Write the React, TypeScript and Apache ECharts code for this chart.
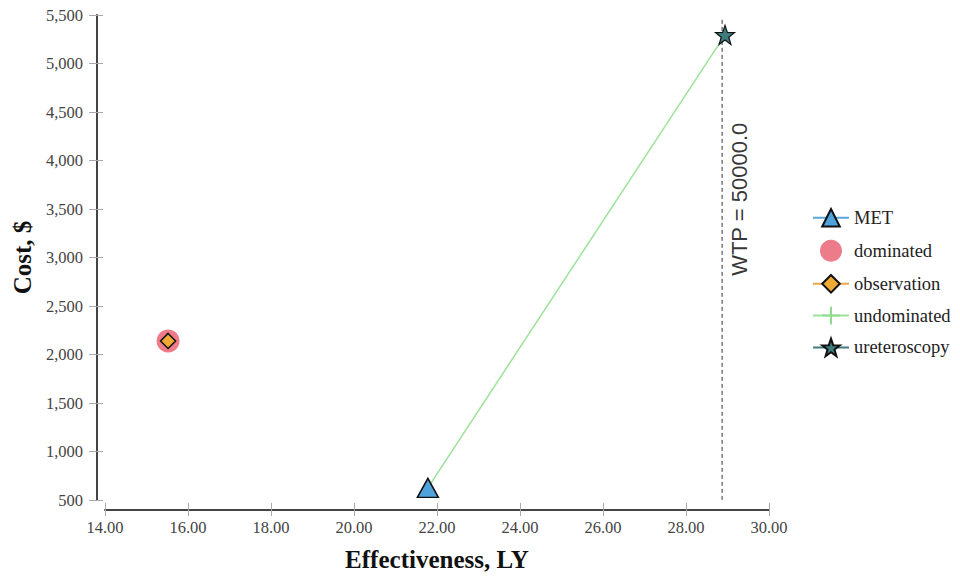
import React, { useEffect, useRef } from "react";
import * as echarts from "echarts";

const xTicks = [14, 16, 18, 20, 22, 24, 26, 28, 30];
const yTicks = [500, 1000, 1500, 2000, 2500, 3000, 3500, 4000, 4500, 5000, 5500];
const metPoint = [21.78, 625];
const dominatedPoint = [15.52, 2140];
const observationPoint = [15.52, 2140];
const ureteroscopyPoint = [28.94, 5295];
const undominatedLine = [metPoint, ureteroscopyPoint];
const wtpLine = [[28.87, 5450], [28.87, 480]];
const wtpLabelAnchor = [29.3, 3600];
const wtpText = "WTP = 50000.0";

const STAR =
  "path://M0,-10L2.35,-3.24L9.51,-3.09L3.8,1.24L5.88,8.09L0,4L-5.88,8.09L-3.8,1.24L-9.51,-3.09L-2.35,-3.24Z";
const PLUS = "path://M0,5L10,5M5,0L5,10";

export default function App() {
  const ref = useRef<HTMLDivElement>(null);
  useEffect(() => {
    const chart = echarts.init(ref.current!, null, { renderer: "svg" });
    const serif = "'Liberation Serif', 'Times New Roman', serif";
    const tickLabel = { fontFamily: serif, fontSize: 16.5, color: "#444" };
    const baseX = {
      type: "value",
      min: xTicks[0],
      max: xTicks[xTicks.length - 1],
      interval: 2,
      position: "bottom",
      offset: 10,
      splitLine: { show: false },
    };
    const baseY = {
      type: "value",
      min: yTicks[0],
      max: yTicks[yTicks.length - 1],
      interval: 500,
      position: "left",
      offset: 8,
      splitLine: { show: false },
    };
    chart.setOption({
      animation: false,
      textStyle: { fontFamily: serif },
      grid: { left: 105, right: 191, top: 15, bottom: 80 },
      xAxis: [
        {
          ...baseX,
          name: "Effectiveness, LY",
          nameLocation: "middle",
          nameGap: 37,
          nameTextStyle: { fontFamily: serif, fontSize: 25, fontWeight: "bold", color: "#111" },
          axisLine: { show: true, lineStyle: { color: "#444", width: 2 } },
          axisTick: { show: true, inside: false, length: 6, lineStyle: { color: "#aaa" } },
          axisLabel: { ...tickLabel, margin: 9, formatter: (v: number) => v.toFixed(2) },
        },
        {
          ...baseX,
          axisLine: { show: false },
          axisTick: { show: true, inside: true, length: 7, lineStyle: { color: "#aaa" } },
          axisLabel: { show: false },
        },
      ],
      yAxis: [
        {
          ...baseY,
          name: "Cost, $",
          nameLocation: "middle",
          nameGap: 55,
          nameTextStyle: { fontFamily: serif, fontSize: 25, fontWeight: "bold", color: "#111" },
          axisLine: { show: true, lineStyle: { color: "#444", width: 2 } },
          axisTick: { show: true, inside: false, length: 8, lineStyle: { color: "#aaa" } },
          axisLabel: {
            ...tickLabel,
            margin: 14,
            formatter: (v: number) => v.toLocaleString("en-US"),
          },
        },
        {
          ...baseY,
          axisLine: { show: false },
          axisTick: { show: true, inside: true, length: 6, lineStyle: { color: "#aaa" } },
          axisLabel: { show: false },
        },
      ],
      legend: {
        orient: "vertical",
        left: 807,
        top: 203,
        itemWidth: 36,
        itemHeight: 22,
        itemGap: 12.2,
        textStyle: { fontFamily: serif, fontSize: 18.5, color: "#222" },
        data: ["MET", "dominated", "observation", "undominated", "ureteroscopy"],
      },
      series: [
        {
          name: "undominated",
          type: "line",
          data: undominatedLine,
          showSymbol: false,
          symbol: PLUS,
          symbolSize: 14,
          itemStyle: { color: "#8fdc8f", borderColor: "#8fdc8f", borderWidth: 1.5 },
          lineStyle: { color: "#9be29b", width: 1.5 },
          z: 2,
        },
        {
          name: "WTP",
          type: "line",
          data: wtpLine,
          symbol: "none",
          clip: false,
          lineStyle: { color: "#333", width: 1, type: [4, 3] },
          z: 1,
        },
        {
          name: "WTP label",
          type: "scatter",
          data: [wtpLabelAnchor],
          symbolSize: 0,
          itemStyle: { color: "transparent" },
          label: {
            show: true,
            position: "inside",
            rotate: 90,
            formatter: () => wtpText,
            fontFamily: "'Liberation Sans', Arial, sans-serif",
            fontSize: 22,
            color: "#000",
          },
        },
        {
          name: "MET",
          type: "line",
          data: [metPoint],
          symbol: "triangle",
          symbolSize: [21, 19],
          itemStyle: { color: "#4ea3dc", borderColor: "#111", borderWidth: 1.5 },
          lineStyle: { color: "#5aa6d8", width: 1.5 },
          z: 5,
        },
        {
          name: "dominated",
          type: "scatter",
          data: [dominatedPoint],
          symbol: "circle",
          symbolSize: 23,
          itemStyle: { color: "#ea5a6c" },
          z: 3,
        },
        {
          name: "observation",
          type: "line",
          data: [observationPoint],
          symbol: "diamond",
          symbolSize: 15,
          itemStyle: { color: "#f0a935", borderColor: "#111", borderWidth: 1.5 },
          lineStyle: { color: "#e8a84a", width: 1.5 },
          z: 4,
        },
        {
          name: "ureteroscopy",
          type: "line",
          data: [ureteroscopyPoint],
          symbol: STAR,
          symbolSize: 19,
          itemStyle: { color: "#3d7d7e", borderColor: "#111", borderWidth: 1.2 },
          lineStyle: { color: "#3f7d7e", width: 1.5 },
          z: 5,
        },
      ],
    });
    return () => chart.dispose();
  }, []);
  return <div ref={ref} style={{ width: 960, height: 580, position: "absolute", left: 0, top: 0, background: "#fff" }} />;
}
